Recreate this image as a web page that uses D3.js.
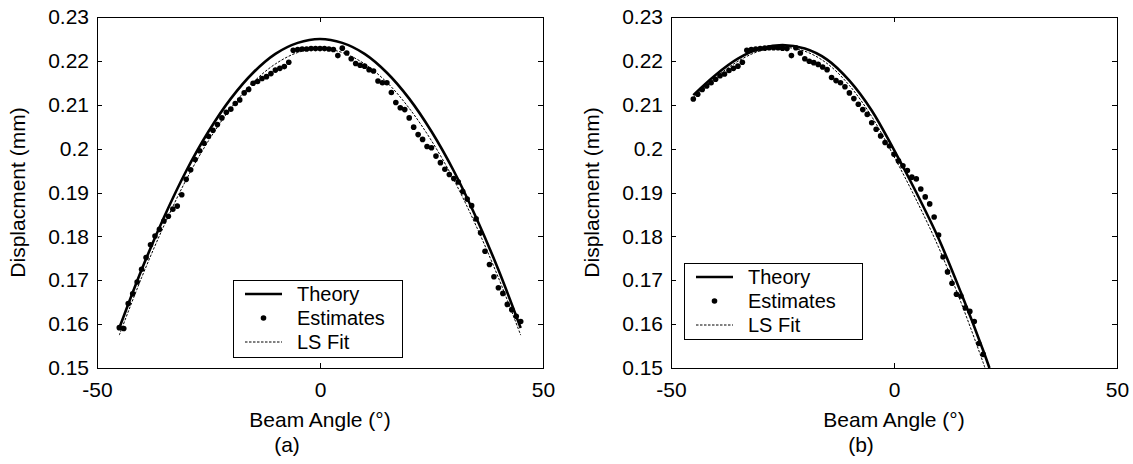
<!DOCTYPE html>
<meta charset="utf-8">
<style>
body { margin: 0; background: #fff; }
svg { font-family: "Liberation Sans", Arial, sans-serif; }
.axis path, .axis line { stroke: #000; stroke-width: 1; shape-rendering: crispEdges; }
.axis text { font-size: 21px; fill: #000; font-family: "Liberation Sans", Arial, sans-serif; }
.lbl { font-size: 21px; fill: #000; }
.theory { fill: none; stroke: #000; stroke-width: 2.6; }
.lsfit { fill: none; stroke: #000; stroke-width: 1; stroke-dasharray: 2.5,1.5; }
.dot { fill: #000; }
.legend rect { fill: #fff; stroke: #000; stroke-width: 1; shape-rendering: crispEdges; }
.legend text { font-size: 20px; fill: #000; }
</style>
<svg width="1133" height="464"></svg>
<script src="https://d3js.org/d3.v7.min.js"></script>
<script>

// axis ticks (shared by both panels)
var xTicks = [-50, 0, 50];
var xTickLabels = ["-50", "0", "50"];
var yTicks = [0.15, 0.16, 0.17, 0.18, 0.19, 0.2, 0.21, 0.22, 0.23];
var yTickLabels = ["0.15", "0.16", "0.17", "0.18", "0.19", "0.2", "0.21", "0.22", "0.23"];

// ---- panel (a) ----
var curveAngleA = [-45, -40, -35, -30, -25, -20, -15, -10, -5, 0, 5, 10, 15, 20, 25, 30, 35, 40, 45];
var theoryA = [0.1591, 0.1724, 0.1843, 0.1949, 0.2039, 0.2114, 0.2173, 0.2216, 0.2241, 0.2250,
               0.2241, 0.2216, 0.2173, 0.2114, 0.2039, 0.1949, 0.1843, 0.1724, 0.1591];
var lsFitA = [0.1575, 0.1706, 0.1824, 0.1929, 0.2018, 0.2092, 0.2151, 0.2193, 0.2219, 0.2228,
              0.2219, 0.2193, 0.2151, 0.2092, 0.2018, 0.1929, 0.1824, 0.1706, 0.1575];

var estAngleA = [-45, -44, -43, -42, -41, -40, -39, -38, -37, -36, -35, -34, -33, -32, -31, -30,
                 -29, -28, -27, -26, -25, -24, -23, -22, -21, -20, -19, -18, -17, -16, -15, -14,
                 -13, -12, -11, -10, -9, -8, -7, -6, -5, -4, -3, -2, -1, 0, 1, 2, 3, 4, 5, 6, 7,
                 8, 9, 10, 11, 12, 13, 14, 15, 16, 17, 18, 19, 20, 21, 22, 23, 24, 25, 26, 27, 28,
                 29, 30, 31, 32, 33, 34, 35, 36, 37, 38, 39, 40, 41, 42, 43, 44, 45];
var estA = [0.1592, 0.1590, 0.1647, 0.1669, 0.1696, 0.1725, 0.1752, 0.1781, 0.1801, 0.1816,
            0.1835, 0.1846, 0.1862, 0.1869, 0.1895, 0.1930, 0.1952, 0.1975, 0.1995, 0.2012,
            0.2028, 0.2042, 0.2055, 0.2070, 0.2083, 0.2090, 0.2103, 0.2111, 0.2127, 0.2135,
            0.2149, 0.2153, 0.2160, 0.2164, 0.2171, 0.2179, 0.2183, 0.2187, 0.2197, 0.2224,
            0.2226, 0.2227, 0.2227, 0.2228, 0.2228, 0.2228, 0.2228, 0.2227, 0.2226, 0.2212,
            0.2229, 0.2218, 0.2205, 0.2194, 0.2190, 0.2188, 0.2180, 0.2177, 0.2154, 0.2150,
            0.2150, 0.2128, 0.2105, 0.2093, 0.2089, 0.2070, 0.2049, 0.2032, 0.2021, 0.2005,
            0.2002, 0.1983, 0.1968, 0.1953, 0.1941, 0.1932, 0.1924, 0.1902, 0.1885, 0.1870,
            0.1840, 0.1808, 0.1766, 0.1736, 0.1708, 0.1683, 0.1670, 0.1645, 0.1633, 0.1618, 0.1606];

// ---- panel (b) ----
var theoryAngleB = [-45, -40, -35, -30, -25, -20, -15, -10, -5, 0, 5, 10, 15, 20, 21.4];
var theoryB = [0.2122, 0.2168, 0.2205, 0.2228, 0.2236, 0.2228, 0.2203, 0.2155, 0.2087, 0.1997,
               0.1900, 0.1795, 0.1672, 0.1540, 0.1500];
var lsAngleB = [-45, -40, -35, -30, -25, -20, -15, -10, -5, 0, 5, 10, 15, 20, 20.4];
var lsFitB = [0.2116, 0.2162, 0.2199, 0.2223, 0.2231, 0.2222, 0.2194, 0.2144, 0.2073, 0.1982,
              0.1883, 0.1775, 0.1650, 0.1512, 0.1500];

var estAngleB = [-45, -44, -43, -42, -41, -40, -39, -38, -37, -36, -35, -34, -33, -32, -31, -30,
                 -29, -28, -27, -26, -25, -24, -23, -22, -21, -20, -19, -18, -17, -16, -15, -14,
                 -13, -12, -11, -10, -9, -8, -7, -6, -5, -4, -3, -2, -1, 0, 1, 2, 3, 4, 5, 6, 7,
                 8, 9, 10, 11, 12, 13, 14, 15, 16, 17, 18, 19, 20];
var estB = [0.2113, 0.2124, 0.2135, 0.2143, 0.2150, 0.2158, 0.2166, 0.2170, 0.2178, 0.2183,
            0.2188, 0.2197, 0.2224, 0.2226, 0.2227, 0.2228, 0.2229, 0.2230, 0.2230, 0.2230,
            0.2229, 0.2228, 0.2212, 0.2230, 0.2218, 0.2205, 0.2199, 0.2196, 0.2192, 0.2186,
            0.2180, 0.2162, 0.2155, 0.2150, 0.2141, 0.2127, 0.2114, 0.2101, 0.2089, 0.2078,
            0.2059, 0.2044, 0.2029, 0.2014, 0.2006, 0.1987, 0.1972, 0.1961, 0.1950, 0.1935,
            0.1931, 0.1908, 0.1890, 0.1874, 0.1844, 0.1803, 0.1753, 0.1719, 0.1693, 0.1668,
            0.1664, 0.1637, 0.1629, 0.1606, 0.1556, 0.1531];

var legendNames = ["Theory", "Estimates", "LS Fit"];

var svg = d3.select("svg");

var panels = [
  {id: "a", left: 97, right: 543, top: 17, bottom: 368, caption: "(a)", captionX: 287,
   theoryX: curveAngleA, theory: theoryA, lsX: curveAngleA, ls: lsFitA,
   estX: estAngleA, est: estA, legend: {x: 233, y: 280, w: 169, h: 77}},
  {id: "b", left: 671, right: 1117, top: 17, bottom: 368, caption: "(b)", captionX: 861,
   theoryX: theoryAngleB, theory: theoryB, lsX: lsAngleB, ls: lsFitB,
   estX: estAngleB, est: estB, legend: {x: 684, y: 263, w: 178, h: 76}}
];

panels.forEach(function(p) {
  var w = p.right - p.left, h = p.bottom - p.top;
  var x = d3.scaleLinear().domain([-50, 50]).range([0, w]);
  var y = d3.scaleLinear().domain([0.15, 0.23]).range([h, 0]);

  var g = svg.append("g").attr("transform", "translate(" + p.left + "," + p.top + ")");

  g.append("clipPath").attr("id", "clip-" + p.id)
    .append("rect").attr("width", w).attr("height", h);

  // axes with inward ticks on all four sides
  g.append("g").attr("class", "axis")
      .attr("transform", "translate(0," + h + ")")
      .call(d3.axisBottom(x).tickValues(xTicks).tickSizeInner(-5).tickSizeOuter(0).tickPadding(10)
        .tickFormat(function(d, i) { return xTickLabels[i]; }))
      .selectAll("text").attr("dy", "0.9em");
  g.append("g").attr("class", "axis")
      .call(d3.axisTop(x).tickValues(xTicks).tickSizeInner(-5).tickSizeOuter(0).tickFormat(""));
  g.append("g").attr("class", "axis")
      .call(d3.axisLeft(y).tickValues(yTicks).tickSizeInner(-5).tickSizeOuter(0).tickPadding(8)
        .tickFormat(function(d, i) { return yTickLabels[i]; }));
  g.append("g").attr("class", "axis")
      .attr("transform", "translate(" + w + ",0)")
      .call(d3.axisRight(y).tickValues(yTicks).tickSizeInner(-5).tickSizeOuter(0).tickFormat(""));

  var line = d3.line()
      .x(function(d) { return x(d[0]); })
      .y(function(d) { return y(d[1]); })
      .curve(d3.curveCatmullRom);

  var plot = g.append("g").attr("clip-path", "url(#clip-" + p.id + ")");

  plot.append("path").attr("class", "lsfit")
      .attr("d", line(d3.zip(p.lsX, p.ls)));

  plot.append("path").attr("class", "theory")
      .attr("d", line(d3.zip(p.theoryX, p.theory)));

  plot.selectAll(".dot").data(d3.zip(p.estX, p.est)).enter()
    .append("circle").attr("class", "dot")
      .attr("cx", function(d) { return x(d[0]); })
      .attr("cy", function(d) { return y(d[1]); })
      .attr("r", 2.8);

  // axis titles
  svg.append("text").attr("class", "lbl")
      .attr("x", p.left + w / 2).attr("y", 427)
      .attr("text-anchor", "middle")
      .text("Beam Angle (\u00b0)");
  svg.append("text").attr("class", "lbl")
      .attr("transform", "translate(" + (p.left - 72) + "," + (p.top + h / 2) + ") rotate(-90)")
      .attr("text-anchor", "middle")
      .text("Displacment (mm)");
  svg.append("text").attr("class", "lbl")
      .attr("x", p.captionX).attr("y", 452)
      .attr("text-anchor", "middle")
      .text(p.caption);

  // legend
  var L = p.legend;
  var lg = svg.append("g").attr("class", "legend")
      .attr("transform", "translate(" + L.x + "," + L.y + ")");
  lg.append("rect").attr("width", L.w).attr("height", L.h);
  var rowY = [14, 38, 62];
  lg.append("line").attr("x1", 12).attr("x2", 49).attr("y1", rowY[0]).attr("y2", rowY[0])
      .attr("stroke", "#000").attr("stroke-width", 2.6);
  lg.append("circle").attr("cx", 30.5).attr("cy", rowY[1]).attr("r", 2.8).attr("fill", "#000");
  lg.append("line").attr("x1", 12).attr("x2", 49).attr("y1", rowY[2]).attr("y2", rowY[2])
      .attr("stroke", "#000").attr("stroke-width", 1).attr("stroke-dasharray", "2.5,1.5");
  lg.selectAll("text.name").data(legendNames).enter()
    .append("text").attr("class", "name")
      .attr("x", 64)
      .attr("y", function(d, i) { return rowY[i]; })
      .attr("dy", "0.35em")
      .text(function(d) { return d; });
});

</script>
